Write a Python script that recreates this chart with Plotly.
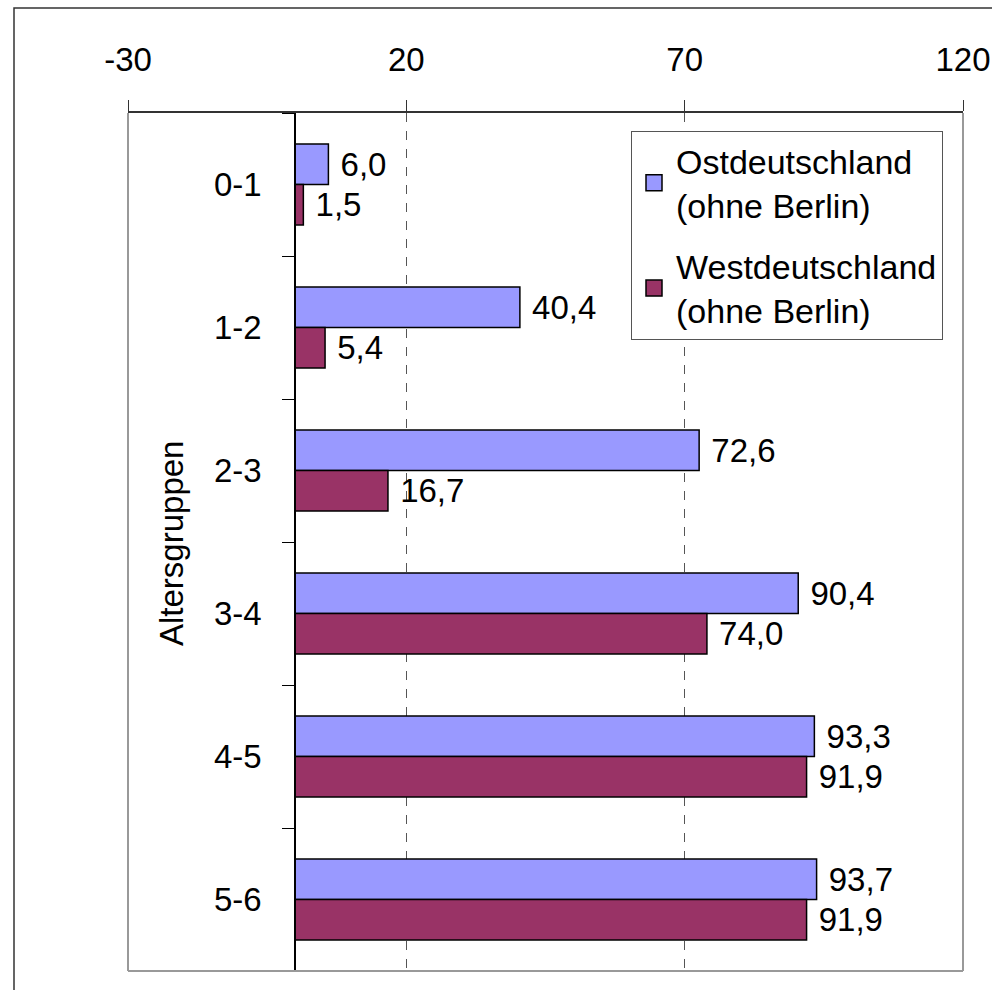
import plotly.graph_objects as go

categories = ["0-1", "1-2", "2-3", "3-4", "4-5", "5-6"]
ost_values = [6.0, 40.4, 72.6, 90.4, 93.3, 93.7]
west_values = [1.5, 5.4, 16.7, 74.0, 91.9, 91.9]
ost_name = "Ostdeutschland<br>(ohne Berlin)"
west_name = "Westdeutschland<br>(ohne Berlin)"
x_ticks = [-30, 20, 70, 120]

FONT = "Liberation Sans, Arial, sans-serif"
FS = 33
OST_COLOR = "#9999FF"
WEST_COLOR = "#993366"

def lab(vals):
    return ["\u00a0" + f"{v:.1f}".replace(".", ",") for v in vals]

fig = go.Figure()
fig.add_trace(go.Bar(
    y=categories, x=ost_values, orientation="h", name=ost_name, showlegend=False,
    marker=dict(color=OST_COLOR, line=dict(color="black", width=1.5)),
    text=lab(ost_values), textposition="outside", constraintext="none",
    cliponaxis=False, textfont=dict(size=FS, color="black", family=FONT),
))
fig.add_trace(go.Bar(
    y=categories, x=west_values, orientation="h", name=west_name, showlegend=False,
    marker=dict(color=WEST_COLOR, line=dict(color="black", width=1.5)),
    text=lab(west_values), textposition="outside", constraintext="none",
    cliponaxis=False, textfont=dict(size=FS, color="black", family=FONT),
))
# legend entries (larger square swatches)
for nm, col, grp in [(ost_name, OST_COLOR, "ost"), (west_name, WEST_COLOR, "west")]:
    fig.add_trace(go.Scatter(
        x=[None], y=[None], mode="markers", name=nm, showlegend=True,
        legendgroup=grp,
        marker=dict(symbol="square", size=17, color=col,
                    line=dict(color="black", width=1.5)),
    ))

W, H = 992, 990
L, R, T, B = 128, 963, 113, 971
pw, ph = R - L, B - T

def px(x):
    return (x - L) / pw

def py(y):
    return 1 - (y - T) / ph

fig.update_layout(
    width=W, height=H,
    margin=dict(l=L, r=W - R, t=T, b=H - B, pad=0, autoexpand=False),
    paper_bgcolor="white", plot_bgcolor="white",
    font=dict(family=FONT, size=FS, color="black"),
    barmode="group", bargap=0.434, bargroupgap=0,
    showlegend=True,
    legend=dict(
        x=px(631), y=py(131), xanchor="left", yanchor="top",
        bordercolor="#555555", borderwidth=1, bgcolor="white",
        font=dict(size=34, family=FONT, color="black"),
        traceorder="grouped", tracegroupgap=14,
        itemsizing="trace", itemwidth=34,
    ),
    xaxis=dict(
        side="top", range=[-30, 120], tickvals=x_ticks,
        ticktext=[str(t) for t in x_ticks],
        ticks="outside", ticklen=11, tickcolor="#333333", tickwidth=1,
        showline=True, linecolor="#333333", linewidth=1.5,
        showgrid=True, gridcolor="#555555", griddash="dash", gridwidth=1,
        zeroline=False, ticklabelstandoff=16, automargin=False,
        tickfont=dict(size=FS, family=FONT, color="black"),
    ),
    yaxis=dict(
        autorange="reversed", anchor="free", position=px(295),
        showline=True, linecolor="black", linewidth=1.5,
        ticks="outside", ticklen=12, tickcolor="black", tickson="boundaries",
        showgrid=False, zeroline=False, ticklabelstandoff=26, automargin=False,
        tickfont=dict(size=FS, family=FONT, color="black"),
    ),
    shapes=[
        dict(type="line", xref="paper", yref="paper", x0=0, x1=0, y0=0, y1=1,
             line=dict(color="#999999", width=2)),
        dict(type="line", xref="paper", yref="paper", x0=1, x1=1, y0=0, y1=1,
             line=dict(color="#999999", width=2)),
        dict(type="line", xref="paper", yref="paper", x0=0, x1=1, y0=0, y1=0,
             line=dict(color="#999999", width=2)),
        dict(type="rect", xref="paper", yref="paper",
             x0=px(14), x1=px(1010), y0=py(1010), y1=py(8),
             line=dict(color="#333333", width=1.5), layer="below"),
    ],
    annotations=[
        dict(text="Altersgruppen", xref="paper", yref="paper",
             x=px(171), y=py(544), textangle=-90, showarrow=False,
             xanchor="center", yanchor="middle",
             font=dict(size=FS, family=FONT, color="black")),
    ],
)

fig.write_html(
    "out.html",
    config={"displayModeBar": False},
    post_script="document.body.style.margin='0';document.body.style.overflow='hidden';",
)
